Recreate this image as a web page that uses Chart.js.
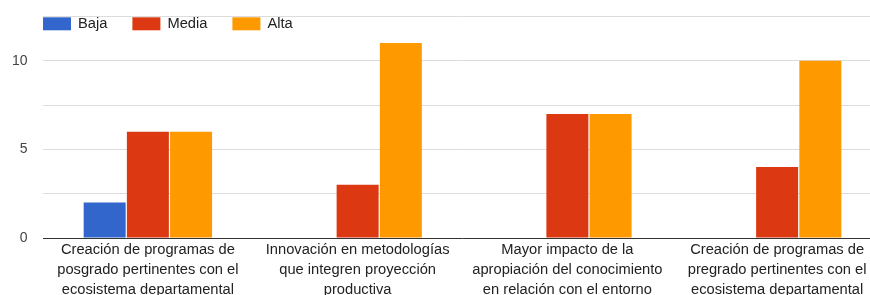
<!DOCTYPE html>
<html>
<head>
<meta charset="utf-8">
<script src="https://cdn.jsdelivr.net/npm/chart.js@4/dist/chart.umd.min.js"></script>
<style>
  html, body { margin: 0; padding: 0; background: #fff; overflow: hidden; }
  #wrap { width: 870px; height: 295px; position: relative; overflow: hidden; }
  #c { display: block; }
</style>
</head>
<body>
<div id="wrap"><canvas id="c" width="884" height="295"></canvas></div>
<script>
const categories = [
  ["Creación de programas de", "posgrado pertinentes con el", "ecosistema departamental"],
  ["Innovación en metodologías", "que integren proyección", "productiva"],
  ["Mayor impacto de la", "apropiación del conocimiento", "en relación con el entorno"],
  ["Creación de programas de", "pregrado pertinentes con el", "ecosistema departamental"]
];
const seriesNames = ["Baja", "Media", "Alta"];
const baja = [2, 0, 0, 0];
const media = [6, 3, 7, 4];
const alta = [6, 11, 7, 10];
const colors = ["#3366cc", "#dc3912", "#ff9900"];
const yMax = 12.5;
const yStep = 2.5;

const FONT = "'Liberation Sans', Arial, sans-serif";

const legendPlugin = {
  id: 'gLegend',
  afterDraw(chart) {
    const ctx = chart.ctx;
    ctx.save();
    ctx.font = "14.7px " + FONT;
    ctx.textBaseline = 'middle';
    let x = 43;
    const yBox = 17.3, boxW = 28, boxH = 13;
    chart.data.datasets.forEach(ds => {
      ctx.fillStyle = ds.backgroundColor;
      ctx.fillRect(x, yBox, boxW, boxH);
      ctx.fillStyle = '#222';
      ctx.fillText(ds.label, x + 35, yBox + boxH / 2 + 0.5);
      x += 35 + ctx.measureText(ds.label).width + 25;
    });
    ctx.restore();
  }
};

new Chart(document.getElementById('c'), {
  type: 'bar',
  data: {
    labels: categories,
    datasets: [
      { label: seriesNames[0], data: baja, backgroundColor: colors[0] },
      { label: seriesNames[1], data: media, backgroundColor: colors[1] },
      { label: seriesNames[2], data: alta, backgroundColor: colors[2] }
    ]
  },
  options: {
    responsive: false,
    animation: false,
    devicePixelRatio: 1,
    layout: { padding: { top: 16.5, left: 0, right: 2, bottom: 0 } },
    datasets: { bar: { categoryPercentage: 0.618, barPercentage: 0.972, borderWidth: 0 } },
    plugins: {
      legend: { display: false },
      tooltip: { enabled: false }
    },
    scales: {
      x: {
        grid: { display: false, drawTicks: false },
        border: { display: false },
        ticks: {
          color: '#222',
          font: { family: FONT, size: 14.7, lineHeight: 1.36 },
          padding: 2,
          maxRotation: 0,
          autoSkip: false
        },
        afterFit(scale) { scale.height = 57; scale.paddingLeft = 0; scale.paddingRight = 0; }
      },
      y: {
        min: 0,
        max: yMax,
        border: { display: false },
        grid: {
          color: ctx => (ctx.tick && ctx.tick.value === 0) ? '#333333' : '#dcdcdc',
          lineWidth: 1,
          drawTicks: false
        },
        ticks: {
          stepSize: yStep,
          color: '#444',
          font: { family: FONT, size: 14 },
          padding: 15.5,
          callback: v => (v % 5 === 0 ? String(v) : '')
        },
        afterFit(scale) { scale.width = 43; scale.paddingTop = 0; scale.paddingBottom = 0; }
      }
    }
  },
  plugins: [legendPlugin]
});
</script>
</body>
</html>
